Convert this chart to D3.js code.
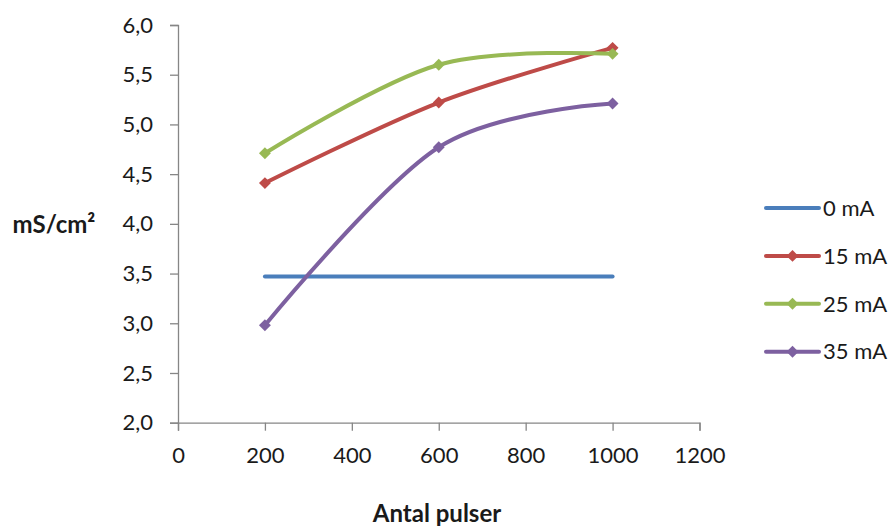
<!DOCTYPE html>
<html>
<head>
<meta charset="utf-8">
<script src="https://cdn.jsdelivr.net/npm/d3@7"></script>
<style>
  body { margin: 0; background: #fff; }
  text { font-family: Lato, "Open Sans", sans-serif; fill: #1a1a1a; }
</style>
</head>
<body>
<div id="chart"></div>
<script>
// data
var pulser = [200, 600, 1000];
var seriesNames = ['0 mA', '15 mA', '25 mA', '35 mA'];
var val0 = [3.47, 3.47, 3.47];
var val15 = [4.41, 5.22, 5.77];
var val25 = [4.71, 5.60, 5.71];
var val35 = [2.98, 4.77, 5.21];
var xTicks = [0, 200, 400, 600, 800, 1000, 1200];
var yTicks = [2.0, 2.5, 3.0, 3.5, 4.0, 4.5, 5.0, 5.5, 6.0];

var colors = ['#4a7ebb', '#be4b48', '#98b954', '#7d60a0'];
var hasMarker = [false, true, true, true];
var allValues = [val0, val15, val25, val35];

var width = 893, height = 527;

var xScale = d3.scaleLinear().domain([0, 1200]).range([178, 699.5]);
var yScale = d3.scaleLinear().domain([2, 6]).range([422.7, 25]);

var svg = d3.select('#chart').append('svg')
  .attr('width', width)
  .attr('height', height);

// axes
var axisColor = '#868686';

var yAxis = svg.append('g')
  .attr('transform', 'translate(178,0)')
  .call(d3.axisLeft(yScale).tickValues(yTicks).tickSize(8).tickPadding(17)
    .tickFormat(function(d) { return d3.format('.1f')(d).replace('.', ','); }));

var xAxis = svg.append('g')
  .attr('transform', 'translate(0,422.7)')
  .call(d3.axisBottom(xScale).tickValues(xTicks).tickSize(8).tickPadding(17)
    .tickFormat(function(d) { return d; }));

[xAxis, yAxis].forEach(function(ax) {
  ax.selectAll('path.domain').attr('stroke', axisColor).attr('stroke-width', 1.3);
  ax.selectAll('line').attr('stroke', axisColor).attr('stroke-width', 1.3);
  ax.selectAll('text')
    .style('font-family', 'Lato, "Open Sans", sans-serif')
    .style('font-size', '22px')
    .attr('fill', '#1a1a1a');
});

// axis titles
svg.append('text')
  .attr('x', 437)
  .attr('y', 522)
  .attr('text-anchor', 'middle')
  .style('font-size', '24px')
  .style('font-weight', 'bold')
  .text('Antal pulser');

svg.append('text')
  .attr('x', 54)
  .attr('y', 233)
  .attr('text-anchor', 'middle')
  .style('font-size', '24px')
  .style('font-weight', 'bold')
  .text('mS/cm²');

// lines (excel style smoothing)
var line = d3.line()
  .x(function(d) { return xScale(d.x); })
  .y(function(d) { return yScale(d.y); })
  .curve(d3.curveCardinal.tension(0));

var diamond = d3.symbol().type(d3.symbolDiamond2).size(90);

allValues.forEach(function(vals, i) {
  var pts = pulser.map(function(p, j) { return {x: p, y: vals[j]}; });
  svg.append('path')
    .datum(pts)
    .attr('d', line)
    .attr('fill', 'none')
    .attr('stroke', colors[i])
    .attr('stroke-width', 4)
    .attr('stroke-linecap', 'round')
    .attr('stroke-linejoin', 'round');

  if (hasMarker[i]) {
    svg.selectAll('.m' + i)
      .data(pts)
      .enter()
      .append('path')
      .attr('class', 'm' + i)
      .attr('d', diamond)
      .attr('transform', function(d) {
        return 'translate(' + xScale(d.x) + ',' + yScale(d.y) + ')';
      })
      .attr('fill', colors[i]);
  }
});

// legend
var legend = svg.selectAll('.legend')
  .data(seriesNames)
  .enter()
  .append('g')
  .attr('class', 'legend')
  .attr('transform', function(d, i) { return 'translate(765,' + (208 + i * 47.9) + ')'; });

legend.append('line')
  .attr('x1', 1).attr('x2', 54)
  .attr('y1', 0).attr('y2', 0)
  .attr('stroke', function(d, i) { return colors[i]; })
  .attr('stroke-width', 4)
  .attr('stroke-linecap', 'round');

legend.filter(function(d, i) { return hasMarker[i]; })
  .append('path')
  .attr('d', diamond)
  .attr('transform', 'translate(27.5,0)')
  .attr('fill', function(d) { return colors[seriesNames.indexOf(d)]; });

legend.append('text')
  .attr('x', 58)
  .attr('y', 0)
  .attr('dy', '0.35em')
  .style('font-size', '22px')
  .text(function(d) { return d; });
</script>
</body>
</html>
